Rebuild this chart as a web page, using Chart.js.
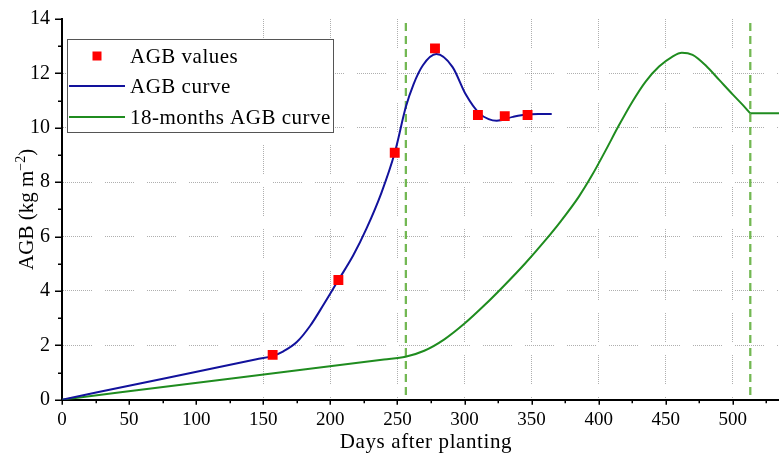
<!DOCTYPE html>
<html>
<head>
<meta charset="utf-8">
<script src="https://cdn.jsdelivr.net/npm/chart.js@4.4.1/dist/chart.umd.min.js"></script>
<style>
  html, body { margin: 0; padding: 0; background: #fff; }
  #wrap { width: 779px; height: 454px; position: relative; }
</style>
</head>
<body>
<div id="wrap"><canvas id="c" width="779" height="454"></canvas></div>
<script>
// Measured above-ground biomass (kg m^-2) by days after planting
const sampleDays = [157, 206, 248, 278, 310, 330, 347];
const sampleAGB  = [1.65, 4.40, 9.08, 12.92, 10.47, 10.43, 10.47];

// Fitted AGB curve (12-month cycle)
const curveDays = [0, 78, 145, 157, 165, 175, 185, 195, 206, 217, 227, 238, 248, 256.3, 262, 269, 279, 291, 301, 311, 318, 324, 336, 346, 355, 365];
const curveAGB  = [0, 0.80, 1.487, 1.61, 1.78, 2.12, 2.72, 3.50, 4.40, 5.30, 6.30, 7.60, 9.08, 10.77, 11.60, 12.30, 12.71, 12.24, 11.22, 10.53, 10.32, 10.26, 10.40, 10.49, 10.51, 10.51];

// Stretched curve for an 18-month cycle, then its plateau
const longDays = [0, 128, 240, 256, 270, 285, 300, 315, 330, 345, 360, 372, 385, 395, 405, 415, 425, 435, 445, 455, 462, 470, 480, 490, 500, 507, 513];
const longAGB  = [0, 0.79, 1.481, 1.58, 1.80, 2.22, 2.80, 3.48, 4.22, 5.00, 5.85, 6.58, 7.45, 8.25, 9.15, 10.08, 10.95, 11.70, 12.25, 12.62, 12.76, 12.68, 12.28, 11.75, 11.22, 10.86, 10.53];
const plateauDays = [513, 534.4];
const plateauAGB  = [10.53, 10.53];

// Vertical reference lines (end of each cycle's growth phase)
const markerDays = [256.3, 513];

const xTickLabels = [0, 50, 100, 150, 200, 250, 300, 350, 400, 450, 500];
const yTickLabels = [0, 2, 4, 6, 8, 10, 12, 14];
const xMinorStep = 25;
const yMinorStep = 1;
const xGridValues = [150, 200, 250, 300, 350, 400, 450, 500];
const yGridValues = [2, 4, 6, 8, 10, 12];

const legendLabels = ['AGB values', 'AGB curve', '18-months AGB curve'];
const xTitle = 'Days after planting';

const RED = '#ff0000';
const BLUE = '#12129c';
const GREEN = '#1f8c1f';
const DASH_GREEN = 'rgba(100,176,64,0.9)';
const GRID = 'rgba(110,110,110,0.55)';
const SERIF = "'Liberation Serif', 'Times New Roman', serif";

// dotted dashes for the grid: ~30px of dots, then a 13px gap
const gridDash = [];
for (let i = 0; i < 15; i++) gridDash.push(1, 1);
gridDash[gridDash.length - 1] = 13;

const toPoints = (xs, ys) => xs.map((x, i) => ({ x: x, y: ys[i] }));

const markerSets = markerDays.map(d => ({
  type: 'line',
  data: [{ x: d, y: 14 }, { x: d, y: 0 }],
  borderColor: DASH_GREEN,
  borderWidth: 2.3,
  borderDash: [8, 5],
  borderDashOffset: 9,
  pointRadius: 0,
  order: 5
}));

// Minor ticks, axis titles and the boxed legend
const decorations = {
  id: 'decorations',
  afterDraw(chart) {
    const ctx = chart.ctx;
    const xs = chart.scales.x, ys = chart.scales.y;
    const area = chart.chartArea;
    ctx.save();
    ctx.strokeStyle = '#000';
    ctx.lineWidth = 1.5;
    ctx.beginPath();
    for (let v = 0; v <= xs.max + 1e-6; v += xMinorStep) {
      const px = Math.round(xs.getPixelForValue(v)) + 0.25;
      const len = (v % 50 === 0) ? 5 : 3.5;
      ctx.moveTo(px, area.bottom);
      ctx.lineTo(px, area.bottom + len);
    }
    for (let v = 0; v <= ys.max + 1e-6; v += yMinorStep) {
      const py = Math.round(ys.getPixelForValue(v)) + 0.25;
      const len = (v % 2 === 0) ? 7 : 4;
      ctx.moveTo(area.left, py);
      ctx.lineTo(area.left - len, py);
    }
    ctx.stroke();

    // x title
    ctx.fillStyle = '#000';
    ctx.font = '21px ' + SERIF;
    ctx.textAlign = 'center';
    ctx.textBaseline = 'alphabetic';
    if ('letterSpacing' in ctx) ctx.letterSpacing = '0.6px';
    ctx.fillText(xTitle, 426, 448);
    if ('letterSpacing' in ctx) ctx.letterSpacing = '0px';

    // y title with superscript exponent
    ctx.save();
    ctx.translate(33, (area.top + area.bottom) / 2);
    ctx.rotate(-Math.PI / 2);
    const big = '21px ' + SERIF, small = '14px ' + SERIF;
    const p1 = 'AGB (kg m', p2 = '\u22122', p3 = ')';
    ctx.font = big; const w1 = ctx.measureText(p1).width, w3 = ctx.measureText(p3).width;
    ctx.font = small; const w2 = ctx.measureText(p2).width;
    const x0 = -(w1 + w2 + w3) / 2;
    ctx.textAlign = 'left';
    ctx.font = big; ctx.fillText(p1, x0, 0);
    ctx.font = small; ctx.fillText(p2, x0 + w1, -8);
    ctx.font = big; ctx.fillText(p3, x0 + w1 + w2, 0);
    ctx.restore();

    // legend box
    ctx.fillStyle = '#fff';
    ctx.fillRect(67, 39, 266, 94);
    ctx.strokeStyle = '#555';
    ctx.lineWidth = 1;
    ctx.strokeRect(67.5, 39.5, 266, 93);
    ctx.fillStyle = RED;
    ctx.fillRect(92.5, 51.5, 9, 9);
    ctx.lineWidth = 2;
    ctx.strokeStyle = BLUE;
    ctx.beginPath(); ctx.moveTo(69, 86); ctx.lineTo(125, 86); ctx.stroke();
    ctx.strokeStyle = GREEN;
    ctx.beginPath(); ctx.moveTo(69, 117); ctx.lineTo(125, 117); ctx.stroke();
    ctx.fillStyle = '#000';
    ctx.font = '21px ' + SERIF;
    ctx.textAlign = 'left';
    if ('letterSpacing' in ctx) ctx.letterSpacing = '0.5px';
    ctx.fillText(legendLabels[0], 130, 63);
    ctx.fillText(legendLabels[1], 130, 93);
    ctx.fillText(legendLabels[2], 130, 124);
    if ('letterSpacing' in ctx) ctx.letterSpacing = '0px';
    ctx.restore();
  }
};

const lineStyle = (color, order) => ({
  borderColor: color,
  borderWidth: 2,
  pointRadius: 0,
  cubicInterpolationMode: 'monotone',
  order: order
});

new Chart(document.getElementById('c'), {
  type: 'line',
  data: {
    datasets: [
      {
        type: 'scatter',
        label: legendLabels[0],
        data: toPoints(sampleDays, sampleAGB),
        pointStyle: 'rect',
        pointRadius: 7,
        pointBackgroundColor: RED,
        pointBorderWidth: 0,
        showLine: false,
        order: 0
      },
      Object.assign({ label: legendLabels[1], data: toPoints(curveDays, curveAGB) }, lineStyle(BLUE, 1)),
      Object.assign({ label: legendLabels[2], data: toPoints(longDays, longAGB) }, lineStyle(GREEN, 2)),
      Object.assign({ label: legendLabels[2], data: toPoints(plateauDays, plateauAGB) }, lineStyle(GREEN, 2)),
      ...markerSets
    ]
  },
  options: {
    responsive: false,
    animation: false,
    devicePixelRatio: 1,
    layout: { autoPadding: false, padding: { top: 19, right: 0, left: 0, bottom: 0 } },
    plugins: { legend: { display: false }, tooltip: { enabled: false } },
    scales: {
      x: {
        type: 'linear',
        min: 0,
        max: 534.4,
        afterFit: s => { s.height = 54.3; s.paddingLeft = 0; s.paddingRight = 0; },
        ticks: {
          stepSize: 50,
          includeBounds: false,
          padding: 9,
          maxRotation: 0,
          autoSkip: false,
          color: '#000',
          font: { family: SERIF, size: 19 },
          callback: v => xTickLabels.includes(v) ? String(v) : ''
        },
        grid: {
          drawTicks: false,
          lineWidth: 1,
          color: c => xGridValues.includes(c.tick && c.tick.value) ? GRID : 'rgba(0,0,0,0)'
        },
        border: { display: true, color: '#000', width: 2, dash: gridDash }
      },
      y: {
        type: 'linear',
        min: 0,
        max: 14,
        afterFit: s => { s.width = 62; s.paddingTop = 0; s.paddingBottom = 0; },
        ticks: {
          stepSize: 2,
          padding: 12,
          color: '#000',
          font: { family: SERIF, size: 20 },
          callback: v => yTickLabels.includes(v) ? String(v) : ''
        },
        grid: {
          drawTicks: false,
          lineWidth: 1,
          color: c => yGridValues.includes(c.tick && c.tick.value) ? GRID : 'rgba(0,0,0,0)'
        },
        border: { display: true, color: '#000', width: 2, dash: gridDash }
      }
    }
  },
  plugins: [decorations]
});
</script>
</body>
</html>
